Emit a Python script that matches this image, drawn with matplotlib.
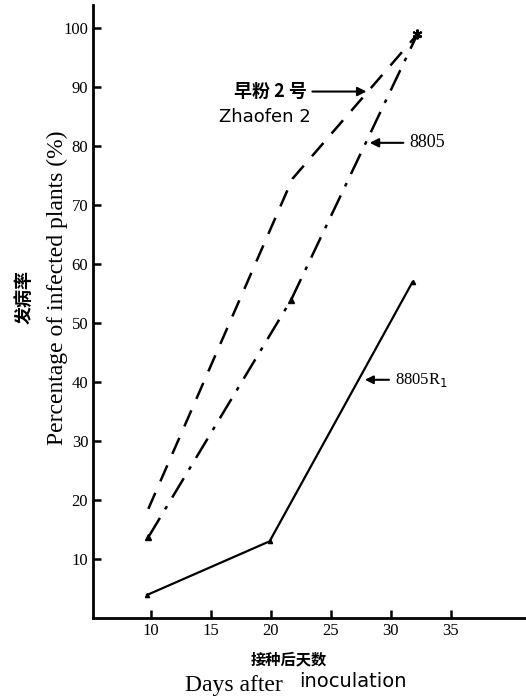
import matplotlib.pyplot as plt

plt.rcParams['font.family'] = ['Liberation Serif', 'Noto Sans CJK SC']

# Days after inoculation and infection percentage per cultivar
days_zhaofen = [9.8, 21.8, 32.2]
pct_zhaofen = [18.5, 74.5, 99]
days_8805 = [9.8, 21.7, 32.2]
pct_8805 = [13.7, 54, 99]
days_8805r = [9.7, 19.9, 31.8]
pct_8805r = [3.9, 13, 57]

xticks = [10, 15, 20, 25, 30, 35]
yticks = [10, 20, 30, 40, 50, 60, 70, 80, 90, 100]

fig = plt.figure(figsize=(5.26, 6.99), dpi=100)
ax = fig.add_axes([0.177, 0.116, 0.823, 0.877])

ax.plot(days_zhaofen, pct_zhaofen, color='black', lw=1.8, dashes=(7, 5))
ax.plot(days_8805, pct_8805, color='black', lw=1.8, dashes=(9, 4, 1.5, 4),
        marker='^', ms=4)
ax.plot(days_8805r, pct_8805r, color='black', lw=1.6, marker='^', ms=3)
ax.plot([32.2], [99], marker=(6, 2, 0), color='black', ms=7, mew=1.5)

ax.set_xlim(5.2, 41.25)
ax.set_ylim(0, 104)
ax.set_xticks(xticks)
ax.set_yticks(yticks)
ax.tick_params(direction='in', length=6, width=1.8, labelsize=12)
for s in ['top', 'right']:
    ax.spines[s].set_visible(False)
for s in ['left', 'bottom']:
    ax.spines[s].set_linewidth(2)

# annotations
ax.annotate('早粉 2 号', xy=(28.2, 89.3), xytext=(23.0, 89.3),
            ha='right', va='center', fontsize=13, fontweight='bold',
            fontfamily='Noto Sans CJK SC',
            arrowprops=dict(arrowstyle='-|>', color='black', lw=1.5))
ax.text(23.3, 85.0, 'Zhaofen 2', ha='right', va='center', fontsize=13,
        fontfamily='DejaVu Sans')
ax.annotate('8805', xy=(28.0, 80.6), xytext=(31.5, 80.6),
            ha='left', va='center', fontsize=13,
            arrowprops=dict(arrowstyle='-|>', color='black', lw=1.5))
ax.annotate('8805R$_1$', xy=(27.6, 40.4), xytext=(30.3, 40.4),
            ha='left', va='center', fontsize=12,
            arrowprops=dict(arrowstyle='-|>', color='black', lw=1.5))

fig.text(0.046, 0.575, '发病率', rotation=90, ha='center', va='center',
         fontsize=13, fontweight='bold', fontfamily='Noto Sans CJK SC')
fig.text(0.11, 0.589, 'Percentage of infected plants (%)', rotation=90,
         ha='center', va='center', fontsize=17)
fig.text(0.55, 0.056, '接种后天数', ha='center', va='center', fontsize=11,
         fontweight='bold', fontfamily='Noto Sans CJK SC')
fig.text(0.445, 0.02, 'Days after', ha='center', va='center', fontsize=17)
fig.text(0.671, 0.025, 'inoculation', ha='center', va='center', fontsize=14,
         fontfamily='DejaVu Sans')

plt.savefig('out.png')
